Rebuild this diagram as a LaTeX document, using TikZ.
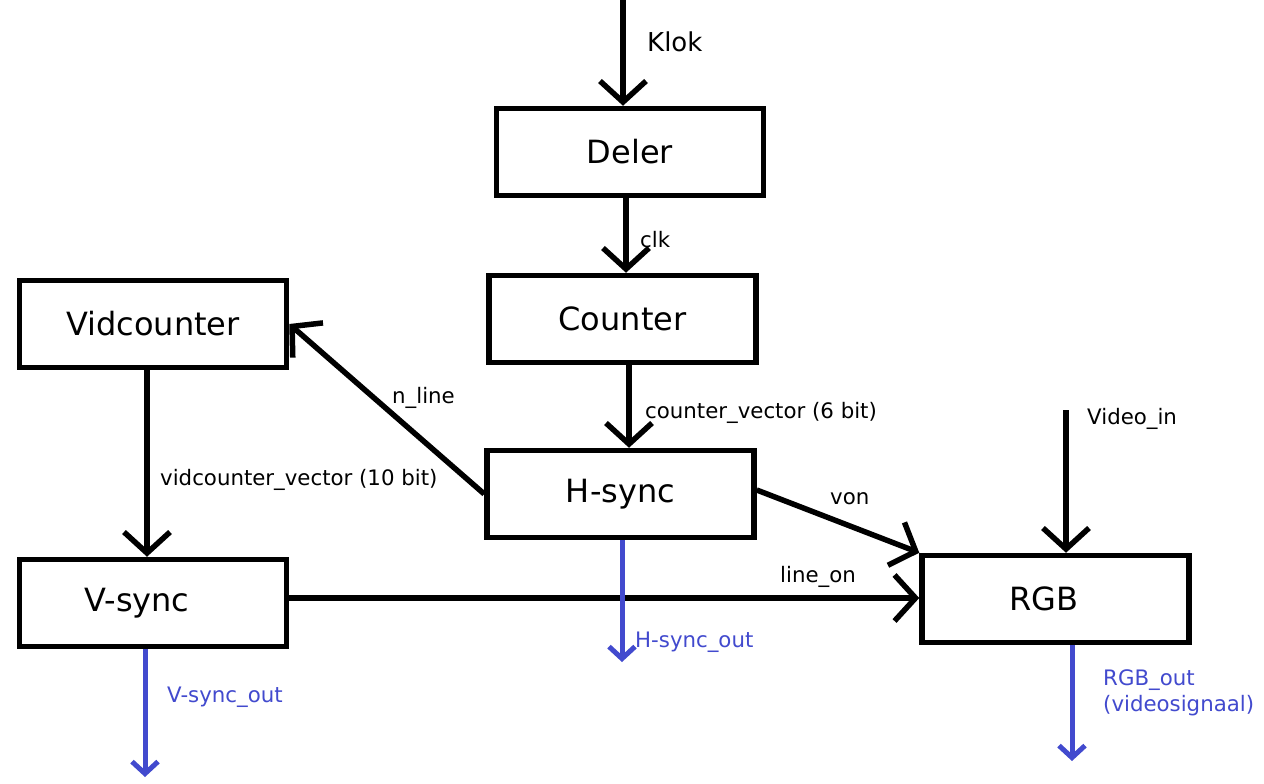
\documentclass[tikz,border=0pt]{standalone}
\usepackage{fontspec}
\setmainfont{DejaVu Sans}
\usetikzlibrary{arrows.meta}
\definecolor{outblue}{RGB}{66,74,206}
\tikzset{
  box/.style={draw, line width=5.5pt, minimum width=267pt, minimum height=87pt, inner sep=0pt, font=\fontsize{32}{38}\selectfont},
  boxtext/.style={font=\fontsize{32}{38}\selectfont},
  arr/.style={line width=5.5pt, -{Straight Barb[length=21pt,width=46pt]}},
  barr/.style={line width=5pt, draw=outblue, -{Straight Barb[length=12pt,width=26pt]}},
  lbl/.style={anchor=west, inner sep=0pt, font=\fontsize{21.3}{26}\selectfont},
  blbl/.style={lbl, text=outblue},
}
\begin{document}
\begin{tikzpicture}[x=1pt,y=-1pt]
\useasboundingbox[fill=white] (0,0) rectangle (1264,784);
% boxes
\node[box] (de) at (630,152) {Deler};
\node[box] (co) at (622.5,319) {Counter};
\node[box] (vc) at (153,324) {Vidcounter};
\node[box] (hs) at (620.5,494) {H-sync};
\node[box, label={[boxtext, xshift=-16pt]center:V-sync}] (vs) at (153,603) {};
\node[box, label={[boxtext, xshift=-12pt]center:RGB}] (rgb) at (1055.5,599) {};
% free ends
\coordinate (klk) at (623,-3);
\coordinate (vin) at (1066,410);
\coordinate (hso) at (622,662);
\coordinate (vso) at (145,777);
\coordinate (rgbo) at (1072,761);
% connectors
\draw[arr] (klk) -- (klk |- de.north);
\draw[arr] ([xshift=-4pt]de.south) -- ([xshift=-4pt]de.south |- co.north);
\draw[arr] ([xshift=6.5pt]co.south) -- ([xshift=6.5pt]co.south |- hs.north);
\draw[arr] ([xshift=-6pt]vc.south) -- ([xshift=-6pt]vc.south |- vs.north);
\draw[arr] (hs.west) -- (vc.east);
\draw[arr] ([yshift=4pt]hs.east) -- (rgb.north west);
\draw[arr] ([yshift=5pt]vs.east) -- ([yshift=5pt]vs.east -| rgb.west);
\draw[arr] (vin) -- (vin |- rgb.north);
\draw[barr] (hso |- hs.south) -- (hso);
\draw[barr] (vso |- vs.south) -- (vso);
\draw[barr] (rgbo |- rgb.south) -- (rgbo);
% labels
\node[lbl, font=\fontsize{26}{30}\selectfont] (lklok) at (647,42) {Klok};
\node[lbl] (lclk) at (640,240) {clk};
\node[lbl] (lcv) at (645,413) {counter\_vector (6 bit)};
\node[lbl] (lvv) at (160,480) {vidcounter\_vector (10 bit)};
\node[lbl] (lnl) at (392,398) {n\_line};
\node[lbl] (lvon) at (830,499) {von};
\node[lbl] (llo) at (780,577) {line\_on};
\node[lbl] (lvin) at (1087,419) {Video\_in};
\node[blbl] (lhso) at (635,642) {H-sync\_out};
\node[blbl] (lvso) at (167,697) {V-sync\_out};
\node[blbl, align=left] (lrgbo) at (1103,693) {RGB\_out\\(videosignaal)};
\end{tikzpicture}
\end{document}
